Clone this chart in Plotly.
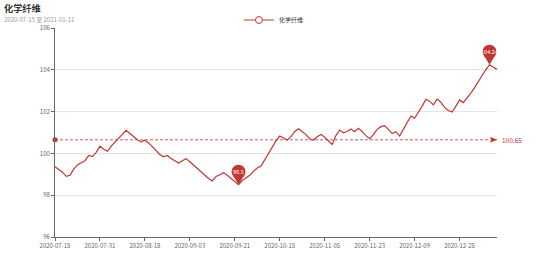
import plotly.graph_objects as go
import pandas as pd
import numpy as np

RED = "#c23531"
FONT = "Noto Sans CJK SC"

TITLE = "化学纤维"
SUBTITLE = "2020-07-15 至 2021-01-11"
SERIES_NAME = "化学纤维"
MEAN_VALUE = 100.65

HOLIDAYS = ["2020-10-01", "2020-10-02", "2020-10-05", "2020-10-06", "2020-10-07",
            "2020-10-08", "2020-10-27", "2020-10-28", "2020-10-29", "2021-01-01"]
dates = [d.strftime("%Y-%m-%d") for d in pd.bdate_range("2020-07-15", "2021-01-11")
         if d.strftime("%Y-%m-%d") not in HOLIDAYS]

values = [
    99.36, 99.25, 99.10, 98.90, 98.95, 99.25, 99.45, 99.55, 99.65, 99.90,
    99.85, 100.05, 100.35, 100.20, 100.10, 100.35, 100.55, 100.75, 100.95, 101.10,
    100.95, 100.80, 100.65, 100.55, 100.63, 100.50, 100.30, 100.10, 99.95, 99.84,
    99.90, 99.75, 99.65, 99.54, 99.65, 99.75, 99.60, 99.44, 99.30, 99.15,
    98.95, 98.80, 98.68, 98.90, 98.98, 99.08, 98.95, 98.80, 98.65, 98.50,
    98.70, 98.82, 98.95, 99.15, 99.30, 99.40, 99.70, 100.05, 100.35, 100.60,
    100.83, 100.75, 100.64, 100.80, 101.05, 101.18, 101.05, 100.90, 100.70, 100.64,
    100.80, 100.91, 100.77, 100.60, 100.43, 100.85, 101.12, 100.99, 101.05, 101.17,
    101.04, 101.20, 101.05, 100.85, 100.70, 100.90, 101.15, 101.28, 101.33, 101.15,
    100.95, 101.04, 100.83, 101.15, 101.45, 101.79, 101.68, 101.95, 102.25, 102.59,
    102.50, 102.32, 102.60, 102.45, 102.20, 102.05, 101.98, 102.25, 102.56, 102.43,
    102.65, 102.88, 103.15, 103.45, 103.75, 104.00, 104.24, 104.15, 104.02,
]
assert len(dates) == len(values), (len(dates), len(values))

Y_TICKS = [96, 98, 100, 102, 104, 106]
tick_dates = dates[::12]

PLOT_L, PLOT_R, PLOT_T, PLOT_B = 55, 497, 28, 237


def px_to_paper(px_x, px_y):
    return ((px_x - PLOT_L) / (PLOT_R - PLOT_L), (PLOT_B - px_y) / (PLOT_B - PLOT_T))


fig = go.Figure()
fig.add_trace(go.Scatter(x=dates, y=values, mode="lines", line=dict(color=RED, width=1.2),
                         showlegend=False, hoverinfo="x+y"))
fig.add_trace(go.Scatter(x=[None], y=[None], mode="lines+markers", name=SERIES_NAME,
                         line=dict(color=RED, width=1),
                         marker=dict(symbol="circle", size=7, color="white",
                                     line=dict(color=RED, width=1))))
# mean line
fig.add_trace(go.Scatter(x=[dates[0], dates[-1]], y=[MEAN_VALUE, MEAN_VALUE], mode="lines",
                         line=dict(color=RED, width=0.8, dash="3px,2px"),
                         showlegend=False, hoverinfo="skip"))
fig.add_trace(go.Scatter(x=[dates[0]], y=[MEAN_VALUE], mode="markers",
                         marker=dict(color=RED, size=5), cliponaxis=False,
                         showlegend=False, hoverinfo="skip"))

shapes = [dict(type="path", xref="x", yref="y", xsizemode="pixel", ysizemode="pixel",
               xanchor=dates[-1], yanchor=MEAN_VALUE, path="M -7 -3 L 0 0 L -7 3 L -5.5 0 Z",
               fillcolor=RED, line=dict(width=0), layer="above")]

tx, ty = px_to_paper(3, 0.3)
sx, sy = px_to_paper(3, 13.8)
annotations = [
    dict(x=dates[-1], y=MEAN_VALUE, xref="x", yref="y", text=f"{MEAN_VALUE:.2f}",
         showarrow=False, xanchor="left", xshift=3, font=dict(size=6.5, color=RED, family=FONT)),
    dict(x=tx, y=ty, xref="paper", yref="paper", text=f"<b>{TITLE}</b>", showarrow=False,
         xanchor="left", yanchor="top", borderpad=0,
         font=dict(size=9.2, color="#333", family=FONT)),
    dict(x=sx, y=sy, xref="paper", yref="paper", text=SUBTITLE, showarrow=False,
         xanchor="left", yanchor="top", borderpad=0,
         font=dict(size=6, color="#999", family=FONT)),
]

i_min = int(np.argmin(values))
i_max = int(np.argmax(values))
for idx in (i_min, i_max):
    xa, ya = dates[idx], values[idx]
    shapes.append(dict(type="circle", xref="x", yref="y", xsizemode="pixel", ysizemode="pixel",
                       xanchor=xa, yanchor=ya, x0=-7, x1=7, y0=6, y1=20,
                       fillcolor=RED, line=dict(width=0), layer="above"))
    shapes.append(dict(type="path", xref="x", yref="y", xsizemode="pixel", ysizemode="pixel",
                       xanchor=xa, yanchor=ya, path="M -5.9 10 L 0 0 L 5.9 10 Z",
                       fillcolor=RED, line=dict(width=0), layer="above"))
    label = f"{ya:g}"
    annotations.append(dict(x=xa, y=ya, xref="x", yref="y", text=label, showarrow=False,
                            yshift=13, font=dict(size=5.6, color="white", family=FONT)))

lx, ly = px_to_paper(274, 20)
fig.update_layout(
    width=554, height=265,
    margin=dict(l=PLOT_L, r=554 - PLOT_R, t=PLOT_T, b=265 - PLOT_B, autoexpand=False),
    plot_bgcolor="white", paper_bgcolor="white",
    font=dict(family=FONT, size=6, color="#666"),
    showlegend=True,
    legend=dict(orientation="h", x=lx, xanchor="center", y=ly, yanchor="middle",
                font=dict(size=6, color="#333"), itemwidth=30, bgcolor="rgba(0,0,0,0)"),
    shapes=shapes,
    annotations=annotations,
    xaxis=dict(type="category", range=[0, len(dates) - 1], tickmode="array",
               tickvals=tick_dates, ticktext=tick_dates, ticks="outside", ticklen=3,
               tickcolor="#666", showline=True, linecolor="#666", linewidth=1,
               showgrid=False, zeroline=False, tickfont=dict(size=6, color="#666")),
    yaxis=dict(range=[96, 106], tickmode="array", tickvals=Y_TICKS, ticks="outside",
               ticklen=3, tickcolor="#666", showline=True, linecolor="#666", linewidth=1,
               showgrid=True, gridcolor="#e3e3e3", zeroline=False,
               tickfont=dict(size=6, color="#666")),
)

fig.write_html("out.html")
